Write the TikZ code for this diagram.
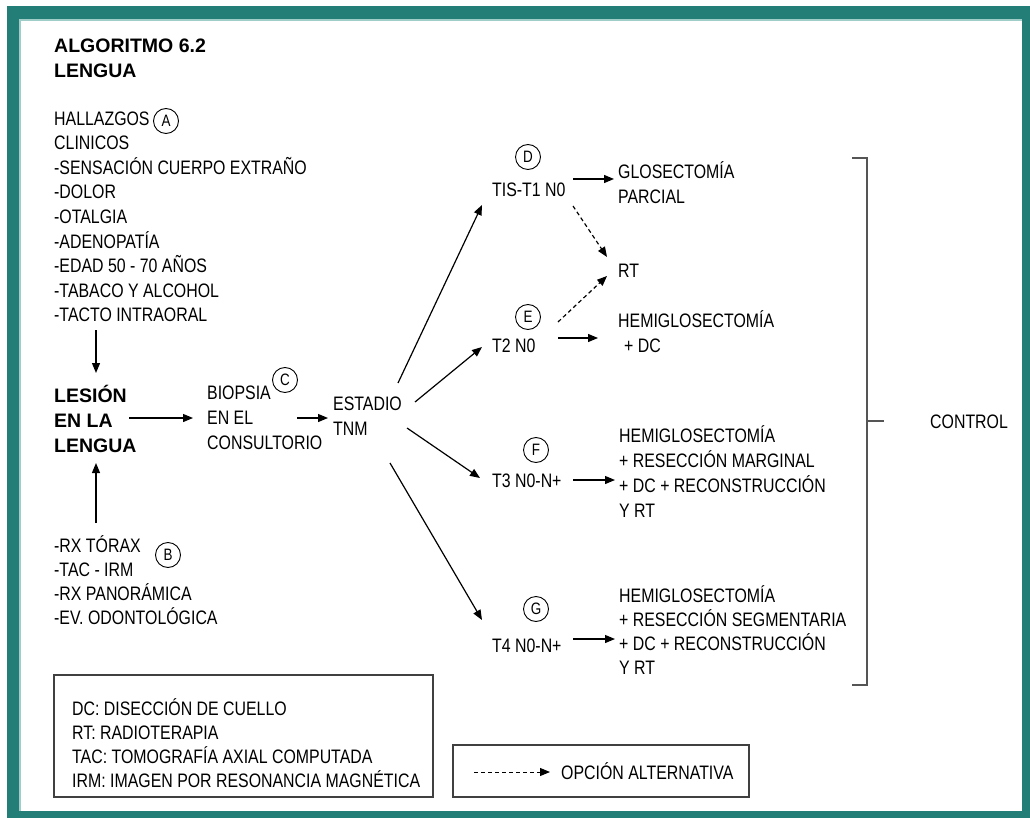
\documentclass[tikz,border=0pt]{standalone}
\usepackage{fontspec}
\setmainfont{Liberation Sans}[FakeStretch=0.815]
\newfontfamily\headfont{Liberation Sans}
\usetikzlibrary{arrows.meta,calc}

\definecolor{frameteal}{RGB}{36,126,120}
\definecolor{framelight}{RGB}{160,205,200}
\definecolor{inkgray}{RGB}{85,85,85}

% text nodes are placed by the baseline of their last line
\tikzset{
  txt/.style={inner sep=0pt, anchor=base west, align=left,
    font=\fontsize{19.5}{24.6}\selectfont},
  head/.style={inner sep=0pt, anchor=base west, align=left,
    font=\headfont\bfseries\fontsize{19.5}{25}\selectfont},
  tag/.style={draw, circle, line width=0.9pt, minimum size=25pt, inner sep=0pt,
    font=\fontsize{16.5}{16.5}\selectfont},
  arr/.style={line width=1.2pt, -{Triangle[length=10pt,width=8pt]}},
  alt/.style={arr, dash pattern=on 4pt off 3pt},
  legendframe/.style={draw=black!75, line width=1.1pt},
  bracketline/.style={draw=inkgray, line width=1.6pt}
}

\begin{document}
\begin{tikzpicture}[x=1pt,y=-1pt]
\useasboundingbox (0,0) rectangle (1030,818);

% page frame
\fill[white] (0,0) rectangle (1030,818);
\fill[frameteal] (7,6) rectangle (1030,818);
\fill[white] (20,20) rectangle (1022,811);
\draw[framelight, line width=1.2pt] (20,811) -- (20,20) -- (1022,20);

% title
\node[head] (title) at (54,78) {ALGORITMO 6.2\\LENGUA};

% clinical findings
\node[txt] (hall) at (54,321.8) {HALLAZGOS\\CLINICOS\\-SENSACIÓN CUERPO EXTRAÑO\\-DOLOR\\-OTALGIA\\-ADENOPATÍA\\-EDAD 50 - 70 AÑOS\\-TABACO Y ALCOHOL\\-TACTO INTRAORAL};
\node[tag] (tagA) at (166,121) {A};

% lesion
\node[head] (lesion) at (54,452) {LESIÓN\\EN LA\\LENGUA};

% imaging studies
\node[txt, font=\fontsize{19.5}{24.3}\selectfont] (rx) at (54,624.9) {-RX TÓRAX\\-TAC - IRM\\-RX PANORÁMICA\\-EV. ODONTOLÓGICA};
\node[tag] (tagB) at (168,555) {B};

% biopsy and staging
\node[txt, font=\fontsize{19.5}{25}\selectfont] (biopsia) at (207,449) {BIOPSIA\\EN EL\\CONSULTORIO};
\node[tag] (tagC) at (285,380) {C};
\node[txt, font=\fontsize{19.5}{25}\selectfont] (estadio) at (333,435) {ESTADIO\\TNM};

% stages
\node[txt] (tis) at (492,197) {TIS-T1 N0};
\node[tag] (tagD) at (528,157) {D};
\node[txt] (t2) at (492,352) {T2 N0};
\node[tag] (tagE) at (528,317) {E};
\node[txt] (t3) at (492,487) {T3 N0-N+};
\node[tag] (tagF) at (536,450) {F};
\node[txt] (t4) at (492,652) {T4 N0-N+};
\node[tag] (tagG) at (536,609) {G};

% treatments
\node[txt, font=\fontsize{19.5}{25}\selectfont] (glos) at (618,204) {GLOSECTOMÍA\\PARCIAL};
\node[txt] (rt) at (618,277) {RT};
\node[txt, font=\fontsize{19.5}{25}\selectfont] (hemi1) at (618,352) {HEMIGLOSECTOMÍA\\\hspace*{6pt}+ DC};
\node[txt, font=\fontsize{19.5}{25}\selectfont] (hemi2) at (619,517) {HEMIGLOSECTOMÍA\\+ RESECCIÓN MARGINAL\\+ DC + RECONSTRUCCIÓN\\Y RT};
\node[txt, font=\fontsize{19.5}{24.3}\selectfont] (hemi3) at (619,674.9) {HEMIGLOSECTOMÍA\\+ RESECCIÓN SEGMENTARIA\\+ DC + RECONSTRUCCIÓN\\Y RT};

% follow-up
\node[txt] (control) at (930,428) {CONTROL};
\draw[bracketline] (852,158) -- (867,158) -- (867,685) -- (852,685);
\draw[bracketline] (867,421) -- (884,421);

% connectors
\draw[arr] ($(hall.base west)+(42,8.2)$) -- ($(lesion.base west)+(42,-79)$);
\draw[arr] ($(rx.base west)+(42,-101.9)$) -- ($(lesion.base west)+(42,11)$);
\draw[arr] ($(lesion.base west)+(75,-34)$) -- ($(biopsia.base west)+(-14,-31)$);
\draw[arr] ($(biopsia.base west)+(90,-31)$) -- ($(estadio.base west)+(-5,-17)$);
\draw[arr] ($(estadio.base west)+(65,-52)$) -- ($(tis.base west)+(-10,8)$);
\draw[arr] ($(estadio.base west)+(82,-33)$) -- ($(t2.base west)+(-10,-5)$);
\draw[arr] ($(estadio.base west)+(74,-7)$) -- ($(t3.base west)+(-12,-9)$);
\draw[arr] ($(estadio.base west)+(57,28)$) -- ($(t4.base west)+(-10,-32)$);
\draw[arr] ($(tis.base west)+(81,-18)$) -- ($(glos.base west)+(-4,-25)$);
\draw[alt] ($(tis.base west)+(81,9)$) -- ($(rt.base west)+(-11,-20)$);
\draw[alt] ($(t2.base west)+(66,-30)$) -- ($(rt.base west)+(-11,-1)$);
\draw[arr] ($(t2.base west)+(66,-14)$) -- ($(hemi1.base west)+(-20,-14)$);
\draw[arr] ($(t3.base west)+(81,-7)$) -- ($(hemi2.base west)+(-4,-37)$);
\draw[arr] ($(t4.base west)+(81,-13)$) -- ($(hemi3.base west)+(-4,-35.9)$);

% abbreviations
\draw[legendframe] (54,675) rectangle (433,797);
\node[txt, font=\fontsize{19.5}{24.3}\selectfont] (abbr) at (72,787.9) {DC: DISECCIÓN DE CUELLO\\RT: RADIOTERAPIA\\TAC: TOMOGRAFÍA AXIAL COMPUTADA\\IRM: IMAGEN POR RESONANCIA MAGNÉTICA};

% line key
\draw[legendframe] (453,745) rectangle (749,797);
\draw[alt, line width=1pt] (474,772) -- (550,772);
\node[txt] (keytext) at (561,779) {OPCIÓN ALTERNATIVA};
\end{tikzpicture}
\end{document}
